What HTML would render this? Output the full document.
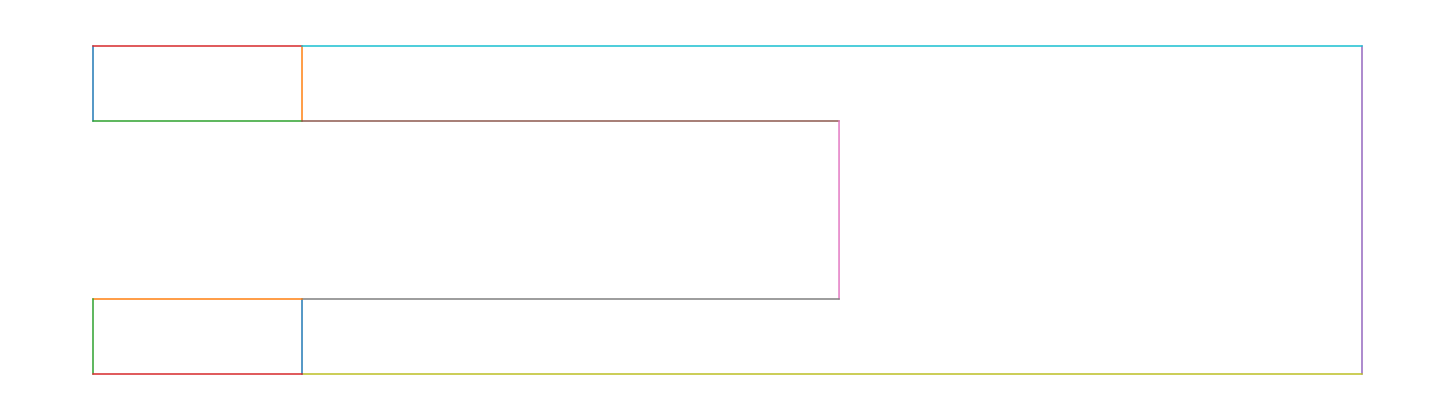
<!DOCTYPE html>
<html><head><meta charset="utf-8"><style>
html,body{margin:0;padding:0;background:#fff;width:1455px;height:420px;overflow:hidden}
</style></head><body>
<svg id="chart" width="1455" height="420" xmlns="http://www.w3.org/2000/svg"></svg>
<script>
// Segment data (fractional data coordinates, x: 0..1 left->right, y: 0..1 top->bottom)
const segX1 = [0, 0.1647, 0, 0, 1, 0.1647, 0.5879, 0.1647, 0.1647, 0.1647, 0.1647, 0, 0, 0];
const segX2 = [0, 0.1647, 0.1647, 0.1647, 1, 0.5879, 0.5879, 0.5879, 1, 1, 0.1647, 0.1647, 0, 0.1647];
const segY1 = [0, 0, 0.2287, 0, 0, 0.2287, 0.2287, 0.7713, 1, 0, 0.7713, 0.7713, 0.7713, 1];
const segY2 = [0.2287, 0.2287, 0.2287, 0, 1, 0.2287, 0.7713, 0.7713, 1, 0, 1, 0.7713, 1, 1];
const palette = ['#1f77b4','#ff7f0e','#2ca02c','#d62728','#9467bd','#8c564b','#e377c2','#7f7f7f','#bcbd22','#17becf'];

const X0 = 93, X1 = 1362, Y0 = 46, Y1 = 374;
const sx = v => X0 + v * (X1 - X0);
const sy = v => Y0 + v * (Y1 - Y0);
const svg = document.getElementById('chart');
const NS = 'http://www.w3.org/2000/svg';
for (let i = 0; i < segX1.length; i++) {
  const l = document.createElementNS(NS, 'line');
  l.setAttribute('x1', sx(segX1[i]));
  l.setAttribute('x2', sx(segX2[i]));
  l.setAttribute('y1', sy(segY1[i]));
  l.setAttribute('y2', sy(segY2[i]));
  l.setAttribute('stroke', palette[i % 10]);
  l.setAttribute('stroke-width', '1.5');
  l.setAttribute('stroke-linecap', 'square');
  
  
  svg.appendChild(l);
}
</script>
</body></html>
